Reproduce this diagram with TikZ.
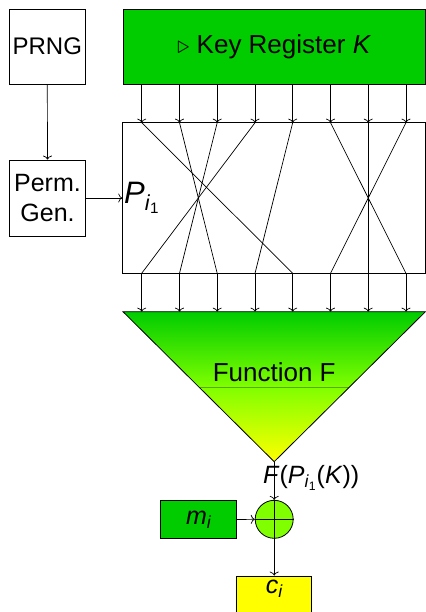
\documentclass[tikz,border=0pt]{standalone}
\usepackage{fontspec}
\setmainfont{Liberation Sans}
\usetikzlibrary{arrows.meta}
\definecolor{keygreen}{RGB}{0,204,0}
\definecolor{limegreen}{RGB}{128,255,0}
\definecolor{fyellow}{RGB}{255,255,0}
\definecolor{midline}{RGB}{90,170,0}
\begin{document}
\begin{tikzpicture}[x=1pt,y=-1pt,
  every node/.style={font=\fontsize{24}{30}\selectfont},
  big/.style={font=\fontsize{26}{30}\selectfont},
  box/.style={draw, line width=0.8pt, inner sep=0pt, align=center},
  wire/.style={line width=0.7pt},
  arr/.style={wire, -{To[length=4pt,width=9pt]}},
]
\useasboundingbox (0,0) rectangle (425,612);
% boxes
\node[box, minimum width=76pt, minimum height=75pt] (prng) at (47.3,46.7) {PRNG};
\node[box, big, fill=keygreen, minimum width=302.5pt, minimum height=75.3pt] (reg) at (274.2,46.7) {$\triangleright$ Key Register \textit{K}};
\node[box, minimum width=303pt, minimum height=150.6pt] (perm) at (274.2,198) {};
\node[box, font=\fontsize{25}{30}\selectfont, minimum width=76.4pt, minimum height=76pt] (pgen) at (47.5,198) {Perm.\\Gen.};
\node[anchor=west, inner sep=0pt, font=\fontsize{31}{30}\selectfont] (plab) at (124,198) {\textit{P}\textsubscript{\textit{i}\textsubscript{1}}};
% wire coordinates
\foreach \xx [count=\k] in {141.7,179.5,217.2,255,292.7,330.5,368.2,406} {
  \coordinate (r\k) at (\xx,84.3);
  \coordinate (t\k) at (\xx,122.7);
  \coordinate (b\k) at (\xx,273.3);
  \coordinate (f\k) at (\xx,311.7);
}
\foreach \k in {1,...,8} {
  \draw[arr] (r\k) -- (t\k);
  \draw[arr] (b\k) -- (f\k);
}
\foreach \a/\b in {1/5,2/3,3/2,4/1,5/4,6/8,7/7,8/6}
  \draw[wire] (t\a) -- (b\b);
\draw[arr] (prng.south) -- (pgen.north);
\draw[arr] (pgen.east) -- (perm.west |- pgen.east);
% function triangle
\coordinate (tl) at (123,311.7);
\coordinate (tr) at (425.4,311.7);
\coordinate (ap) at (274.2,461.7);
\coordinate (ml) at (199.1,387.3);
\coordinate (mr) at (349.3,387.3);
\shade[top color=keygreen, bottom color=limegreen] (tl) -- (tr) -- (mr) -- (ml) -- cycle;
\shade[top color=limegreen, bottom color=fyellow] (ml) -- (mr) -- (ap) -- cycle;
\draw[midline, line width=0.5pt] (ml) -- (mr);
\draw[line width=0.8pt] (tl) -- (tr) -- (ap) -- cycle;
\node[big] (fn) at (274.2,372) {Function F};
\node[anchor=west, inner sep=0pt, font=\fontsize{25}{30}\selectfont] (flab) at (263,478) {\textit{F}(\textit{P}\textsubscript{\textit{i}\textsubscript{1}}(\textit{K}))};
% xor
\node[circle, draw, fill=limegreen, minimum size=38pt, inner sep=0pt, line width=0.8pt] (xor) at (274.2,519.3) {};
\draw[wire] (xor.north) -- (xor.south) (xor.west) -- (xor.east);
\draw[arr] (ap) -- (xor.north);
\node[box, font=\fontsize{25}{30}\selectfont, fill=keygreen, minimum width=76pt, minimum height=37.6pt] (m) at (198.7,519.5) {\textit{m\textsubscript{i}}};
\draw[arr] (m.east) -- (xor.west);
\node[box, fill=fyellow, minimum width=75pt, minimum height=40pt] (c) at (274.2,596) {};
\node[font=\fontsize{25}{30}\selectfont] (clab) at (274.2,589) {\textit{c\textsubscript{i}}};
\draw[arr] (xor.south) -- (c.north);
\end{tikzpicture}
\end{document}
